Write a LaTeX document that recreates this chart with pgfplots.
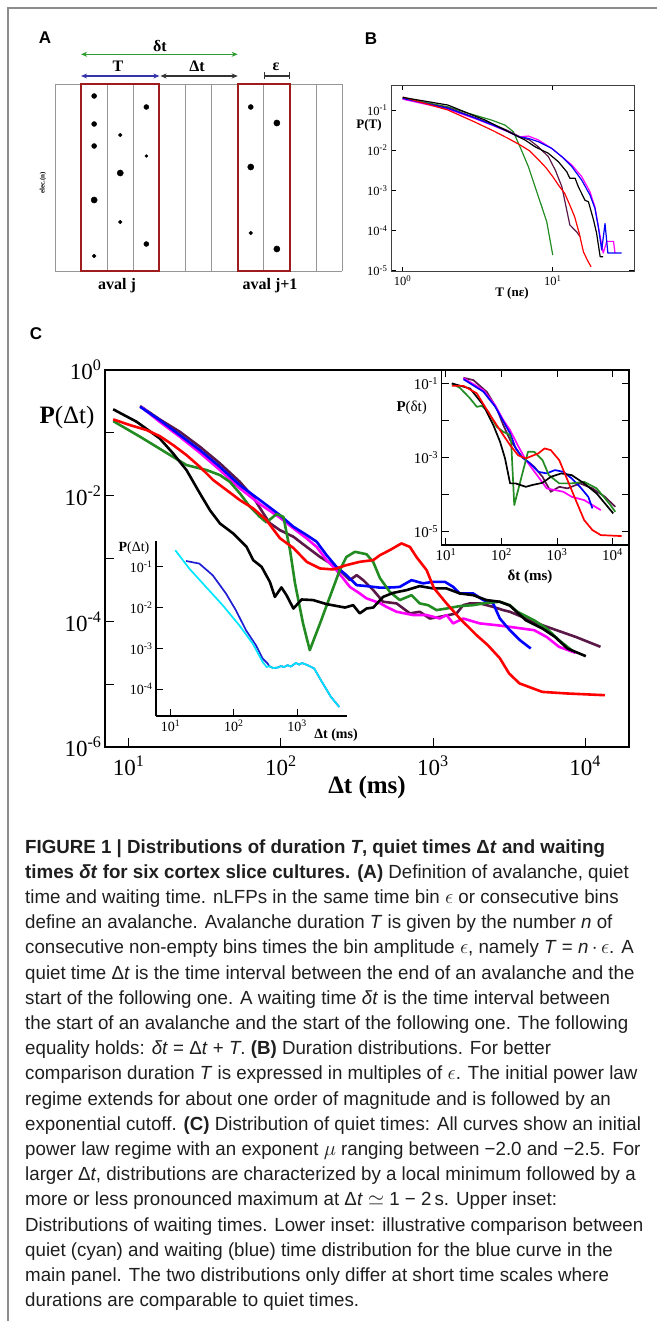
\documentclass[border=0pt]{standalone}
\usepackage{fontspec}
\setmainfont{Liberation Serif}
\newfontfamily\capfont{Liberation Sans}[FakeStretch=0.985]
\newfontfamily\panelfont{Liberation Sans}
\usepackage{pgfplots}
\pgfplotsset{compat=1.18}
\usetikzlibrary{arrows.meta}

\definecolor{cgreen}{RGB}{34,139,34}
\definecolor{cred}{RGB}{255,0,0}
\definecolor{cblue}{RGB}{0,0,255}
\definecolor{cmag}{RGB}{255,0,255}
\definecolor{cpurp}{RGB}{90,24,72}
\definecolor{ccyan}{RGB}{0,230,255}
\definecolor{cdblue}{RGB}{30,30,210}
\definecolor{framegray}{RGB}{140,140,140}
\definecolor{gridgray}{RGB}{150,150,150}
\definecolor{avalred}{RGB}{158,28,28}
\definecolor{arrgreen}{RGB}{46,155,46}
\definecolor{arrblue}{RGB}{52,52,168}

\pgfplotsset{
  logax/.style={scale only axis, log basis x=10, log basis y=10,
    tick align=inside, axis line style={line width=1.2bp},
    every tick/.style={line width=0.9bp, black},
    every axis plot/.append style={line join=round, no marks}},
  allx/.style={xticklabel={10\textsuperscript{\pgfmathtruncatemacro\e{round(\tick)}\e}}},
  ally/.style={yticklabel={10\textsuperscript{\pgfmathtruncatemacro\e{round(\tick)}\e}}},
  eveny/.style={yticklabel={\pgfmathtruncatemacro\e{round(\tick)}\ifodd\e\relax\else10\textsuperscript{\e}\fi}},
  oddy/.style={yticklabel={\pgfmathtruncatemacro\e{round(\tick)}\ifodd\e\relax10\textsuperscript{\e}\fi}},
}
\newcommand{\capsize}{\capfont\fontsize{19bp}{25bp}\selectfont}
\newcommand{\cl}[2]{\node[anchor=base west, inner sep=0pt, font=\capsize, text=black!88] at (25,#1) {#2};}

\begin{document}
\begin{tikzpicture}
\begin{scope}[x=1bp,y=-1bp]
\useasboundingbox (0,0) rectangle (657,1321);
\draw[framegray, line width=1.5bp] (8,1321) -- (8,8) -- (657,8);
% panel letters
\node[font=\panelfont\bfseries\fontsize{17bp}{17bp}\selectfont] at (45,38) {A};
\node[font=\panelfont\bfseries\fontsize{17bp}{17bp}\selectfont] at (371,39) {B};
\node[font=\panelfont\bfseries\fontsize{17bp}{17bp}\selectfont] at (36,334) {C};
% panel A labels
\node[font=\bfseries\fontsize{16bp}{16bp}\selectfont] at (160,46) {δt};
\node[font=\bfseries\fontsize{16bp}{16bp}\selectfont] at (118,66) {T};
\node[font=\bfseries\fontsize{16bp}{16bp}\selectfont] at (197,66) {Δt};
\node[font=\bfseries\fontsize{16bp}{16bp}\selectfont] at (276,67) {ε};
\node[font=\bfseries\fontsize{16bp}{16bp}\selectfont] at (117,286) {aval j};
\node[font=\bfseries\fontsize{16bp}{16bp}\selectfont] at (270,286) {aval j+1};
\node[font=\bfseries\fontsize{7bp}{7bp}\selectfont, rotate=90] at (43,183) {elec.(n)};
\end{scope}

% ---------------- panel A: schematic of avalanches ----------------
\begin{axis}[at={(55bp,-84bp)}, anchor=north west, scale only axis,
  width=287.1bp, height=187bp, xmin=55, xmax=342.1, ymin=84, ymax=271,
  y dir=reverse, hide axis, clip=false]
\pgfplotsinvokeforeach{0,...,11}{\draw[gridgray, line width=0.9bp] ({55+26.1*#1},84) -- ({55+26.1*#1},271);}
\draw[gridgray, line width=0.9bp] (55,84) -- (342.1,84) (55,271) -- (342.1,271);
\draw[avalred, line width=2bp] (81.1,84) rectangle (159.4,271);
\draw[avalred, line width=2bp] (237.7,84) rectangle (289.9,271);
\addplot[only marks, mark=*, mark size=1.4bp, black, mark options={fill=black}] coordinates {(146.35,156)};
\addplot[only marks, mark=*, mark size=1.9bp, black, mark options={fill=black}] coordinates {(94.15,256) (120.25,135) (120.25,222) (250.75,233)};
\addplot[only marks, mark=*, mark size=2.5bp, black, mark options={fill=black}] coordinates {(94.15,96) (94.15,124) (94.15,146) (146.35,107) (146.35,244) (250.75,107)};
\addplot[only marks, mark=*, mark size=3.1bp, black, mark options={fill=black}] coordinates {(94.15,200) (120.25,173) (250.75,167) (276.85,123) (276.85,249)};
\draw[arrgreen, line width=1.3bp, {Stealth[length=6bp,width=5bp]}-{Stealth[length=6bp,width=5bp]}] (81.1,54.3) -- (237.7,54.3);
\draw[arrblue, line width=1.3bp, {Stealth[length=6bp,width=5bp]}-{Stealth[length=6bp,width=5bp]}] (81.1,76) -- (159.4,76);
\draw[black!80, line width=1.3bp, {Stealth[length=6bp,width=5bp]}-{Stealth[length=6bp,width=5bp]}] (160.5,76) -- (237.7,76);
\draw[black!80, line width=1.3bp, {Bar[width=7bp]}-{Bar[width=7bp]}] (263.8,76) -- (289.9,76);
\end{axis}

% ---------------- panel B: duration distributions ----------------
\begin{loglogaxis}[logax, allx, ally, at={(391bp,-85bp)}, anchor=north west,
  width=243bp, height=186.7bp, xmin=0.836, xmax=34.8, ymin=9.5e-6, ymax=0.419,
  xtick={1,10}, ytick={1e-5,1e-4,1e-3,1e-2,1e-1}, yminorticks=false,
  major tick length=5bp, minor tick length=2.5bp,
  axis line style={black!75, line width=1bp},
  tick label style={font=\fontsize{12.5bp}{12.5bp}\selectfont},
  every axis plot/.append style={line width=1.2bp}]
\addplot[cgreen] coordinates {(1,0.20) (2,0.12) (2.74,0.083) (3.92,0.056) (4.81,0.042) (5.46,0.029) (6.18,0.0101) (6.88,0.0039) (7.62,0.00124) (8.45,3.94e-4) (9.12,1.66e-4) (10,2.47e-5)};
\addplot[cpurp] coordinates {(1,0.19) (2,0.115) (3,0.066) (4,0.044) (5,0.031) (6,0.022) (7,0.018) (8,0.0122) (9.35,0.0069) (10.4,0.0032) (11.5,0.00124) (13,1.38e-4) (14.4,9.4e-5) (15.2,7.1e-5)};
\addplot[cmag] coordinates {(1,0.186) (2,0.105) (3,0.062) (4,0.041) (5,0.029) (6,0.0215) (6.88,0.0225) (8.02,0.018) (9.84,0.0111) (11.5,0.0069) (13.4,0.0043) (15.6,0.0022) (17.7,9.3e-4) (19.1,3.9e-4) (20.7,7.1e-5) (21.7,2.76e-5) (22.9,5.4e-5) (25.4,5.4e-5) (26,2.76e-5)};
\addplot[cblue] coordinates {(1,0.195) (2,0.11) (3,0.064) (4,0.042) (5,0.0295) (5.9,0.0217) (6.88,0.0197) (8.02,0.0163) (9.84,0.0111) (11.5,0.0069) (13.4,0.0039) (15.6,0.0018) (17.7,7.7e-4) (19.1,3.6e-4) (20.1,1.26e-4) (21.2,3.3e-5) (22.3,1.5e-4) (23.3,2.76e-5) (28.8,2.76e-5)};
\addplot[cred] coordinates {(1,0.21) (2,0.10) (3,0.051) (4,0.0306) (5,0.02) (6,0.0138) (7,0.0097) (8,0.0059) (9,0.0037) (10,0.0022) (11,0.0013) (12,8.5e-4) (13,4.3e-4) (14,2.2e-4) (15,8.7e-5) (16,3.0e-5) (17,1.85e-5) (18,1.26e-5)};
\addplot[black] coordinates {(1,0.206) (2,0.133) (3,0.072) (3.54,0.0564) (4,0.045) (5.06,0.0289) (6.54,0.0179) (7.62,0.0122) (9.35,0.00836) (10.9,0.00518) (12.4,0.0029) (13.0,0.002) (14.1,0.002) (14.8,0.00124) (16.4,5.7e-4) (17.3,5.2e-4) (18.7,1.84e-4) (19.6,8.6e-5) (20.7,2.24e-5) (21.7,2.24e-5)};
\end{loglogaxis}

% ---------------- panel C: quiet times ----------------
\begin{loglogaxis}[logax, allx, eveny, at={(105bp,-747bp)}, anchor=south west,
  width=524bp, height=377bp, xmin=7, xmax=19400, ymin=1e-6, ymax=1,
  xtick={10,100,1000,10000}, ytick={1e-6,1e-5,1e-4,1e-3,1e-2,1e-1,1},
  xtick pos=bottom, ytick pos=left,
  major tick length=9bp, minor tick length=5bp,
  axis line style={line width=1.5bp},
  tick label style={font=\fontsize{23bp}{23bp}\selectfont},
  xticklabel style={yshift=-5bp},
  every axis plot/.append style={line width=2.6bp}]
\addplot[cpurp] coordinates {(11.9,0.267) (16.0,0.164) (21.7,0.104) (29.4,0.0601) (39.8,0.0327) (53.8,0.0166) (65.8,0.0095) (76.6,0.00528) (84.7,0.00366) (98.6,0.00283) (121,0.00222) (148,0.00153) (181,0.00106) (221,7.85e-4) (257,5.79e-4) (284,4.53e-4) (315,5.44e-4) (348,4.53e-4) (405,3.14e-4) (470,2.05e-4) (576,1.93e-4) (705,1.34e-4) (818,1.42e-4) (953,1.11e-4) (1109,1.18e-4) (1429,1.34e-4) (1578,1.81e-4) (1746,1.93e-4) (2032,1.93e-4) (2483,1.70e-4) (2891,1.51e-4) (3199,1.42e-4) (5224,8.69e-5) (8650,5.66e-5) (12600,3.93e-5)};
\addplot[cmag] coordinates {(12.2,0.255) (16.0,0.150) (21.7,0.0867) (29.4,0.0482) (39.8,0.0256) (53.8,0.0131) (72.9,0.00735) (98.6,0.00448) (121,0.00302) (148,0.00209) (172,0.00153) (200,9.44e-4) (232,6.53e-4) (257,4.82e-4) (284,3.54e-4) (330,2.78e-4) (366,2.32e-4) (448,1.95e-4) (495,1.70e-4) (576,1.42e-4) (741,1.26e-4) (908,1.26e-4) (1109,1.11e-4) (1227,1.26e-4) (1356,9.27e-5) (1578,1.11e-4) (2032,9.27e-5) (2618,8.69e-5) (3199,8.17e-5) (4613,7.24e-5) (5572,5.66e-5) (6730,3.93e-5) (8650,3.15e-5)};
\addplot[cblue] coordinates {(11.9,0.260) (16.0,0.160) (21.7,0.0923) (29.4,0.0532) (39.8,0.0288) (53.8,0.0147) (72.9,0.00851) (98.6,0.00491) (121,0.00320) (148,0.00236) (172,0.00185) (200,0.00113) (232,7.38e-4) (270,5.44e-4) (315,3.77e-4) (366,3.64e-4) (448,3.44e-4) (547,3.47e-4) (605,3.54e-4) (723,4.53e-4) (861,4.02e-4) (1002,4.26e-4) (1197,4.26e-4) (1356,3.54e-4) (1500,2.78e-4) (1837,2.78e-4) (2138,2.18e-4) (2483,1.93e-4) (2748,1.11e-4) (3199,7.24e-5) (3724,5.02e-5) (4385,3.70e-5)};
\addplot[cgreen] coordinates {(7.92,0.154) (11.9,0.0867) (17.7,0.0482) (24.0,0.0307) (32.5,0.0256) (39.8,0.0213) (46.3,0.0166) (53.8,0.0109) (62.7,0.00665) (72.9,0.00461) (80.5,0.00376) (93.7,0.00509) (104,0.00461) (115,0.00136) (124,4.02e-4) (140,9.27e-5) (155,3.48e-5) (181,9.27e-5) (210,2.45e-4) (244,6.53e-4) (270,1.06e-3) (307,1.28e-3) (366,1.17e-3) (405,8.77e-4) (448,4.88e-4) (520,2.95e-4) (605,2.18e-4) (723,2.61e-4) (818,1.93e-4) (929,1.81e-4) (1054,1.51e-4) (1227,1.60e-4) (1500,1.75e-4) (1837,1.81e-4) (2249,1.97e-4) (2748,2.05e-4) (3199,1.81e-4) (3581,1.42e-4) (4613,1.04e-4) (5572,7.71e-5) (6730,5.02e-5) (8128,3.48e-5)};
\addplot[black] coordinates {(7.92,0.237) (11.3,0.150) (16.0,0.0817) (19.6,0.0471) (24.0,0.0256) (29.4,0.0109) (34.2,0.0059) (39.8,0.00362) (48.6,0.00251) (59.6,0.00153) (65.8,9.44e-4) (74.8,7.38e-4) (84.7,4.26e-4) (91.4,2.45e-4) (101,3.47e-4) (109,2.61e-4) (121,1.60e-4) (137,2.23e-4) (163,2.18e-4) (200,1.88e-4) (264,1.66e-4) (299,1.81e-4) (330,1.34e-4) (366,1.60e-4) (405,1.66e-4) (470,2.45e-4) (547,2.84e-4) (670,3.14e-4) (818,3.64e-4) (1000,3.34e-4) (1227,3.34e-4) (1500,2.78e-4) (1837,2.61e-4) (2249,2.18e-4) (2748,2.05e-4) (3199,1.78e-4) (4074,1.04e-4) (5224,7.71e-5) (6324,5.66e-5) (7638,3.70e-5) (10090,2.79e-5)};
\addplot[cred] coordinates {(7.92,0.164) (10.2,0.133) (13.1,0.111) (16.0,0.0889) (19.6,0.0640) (24.0,0.0443) (29.4,0.0288) (36.0,0.0177) (44.0,0.0123) (53.8,0.00851) (65.8,0.00628) (80.5,0.00408) (98.6,0.00211) (121,0.00147) (148,8.86e-4) (181,6.95e-4) (221,6.70e-4) (270,7.85e-4) (330,8.86e-4) (405,9.44e-4) (448,1.13e-3) (520,1.36e-3) (621,1.74e-3) (705,1.53e-3) (780,1.05e-3) (908,6.53e-4) (1014,3.38e-4) (1227,1.93e-4) (1500,1.11e-4) (1932,6.03e-5) (2291,4.18e-5) (2748,2.59e-5) (3162,1.48e-5) (3698,1.03e-5) (5224,7.54e-6) (7638,7.11e-6) (13460,6.68e-6)};
\end{loglogaxis}

% upper inset: waiting times
\begin{loglogaxis}[logax, allx, oddy, at={(441.7bp,-370bp)}, anchor=north west,
  width=187.3bp, height=175bp, xmin=8.4, xmax=19800, ymin=4.4e-6, ymax=0.23,
  xtick={10,100,1000,10000}, ytick={1e-5,1e-4,1e-3,1e-2,1e-1},
  major tick length=7bp, minor tick length=3.5bp,
  axis background/.style={fill=white},
  axis line style={line width=1.4bp},
  tick label style={font=\fontsize{15bp}{15bp}\selectfont},
  every axis plot/.append style={line width=1.7bp}]
\addplot[cpurp] coordinates {(20.7,0.142) (31.2,0.123) (54.5,0.059) (82.2,0.0212) (108,0.0075) (143,0.003) (232,0.00105) (389,5.65e-4) (548,3.03e-4) (773,1.2e-4) (1096,1.63e-4) (1545,1.48e-4) (2594,2.02e-4) (4345,1.48e-4) (7295,8.77e-5) (11200,4.72e-5)};
\addplot[cmag] coordinates {(20.7,0.14) (47.2,0.066) (76.7,0.026) (108,0.0103) (143,0.0055) (195,0.0022) (275,8.57e-4) (461,3.03e-4) (653,1.48e-4) (920,1.33e-4) (1298,1.2e-4) (1837,8.77e-5) (3083,7.15e-5) (6138,3.85e-5)};
\addplot[cblue] coordinates {(20.7,0.13) (47.2,0.06) (76.7,0.024) (108,0.0095) (143,0.0045) (180,0.0018) (232,0.00105) (327,6.98e-4) (461,4.14e-4) (653,3.75e-4) (920,4.61e-4) (1298,4.14e-4) (1837,2.75e-4) (2594,1.63e-4) (3656,8.77e-5) (4345,4.28e-5)};
\addplot[cgreen] coordinates {(12.8,0.1) (18,0.075) (27,0.04) (36,0.0234) (44.3,0.0249) (58.1,0.0172) (82.2,0.00676) (108,0.00495) (143,0.00404) (150,0.0025) (170,5.25e-5) (300,0.00143) (389,0.00143) (548,8.57e-4) (713,3.37e-4) (1096,2.02e-4) (1837,2.02e-4) (3083,2.23e-4) (5176,1.48e-4) (8690,5.82e-5) (11200,3.46e-5)};
\addplot[black] coordinates {(12.8,0.1) (27.2,0.073) (47.2,0.026) (71.4,0.0075) (94.4,0.00267) (116,9.5e-4) (143,2.02e-4) (179,2.02e-4) (275,1.63e-4) (357,1.82e-4) (548,2.09e-4) (773,3.03e-4) (1194,3.75e-4) (1837,3.37e-4) (3083,2.02e-4) (5176,1.08e-4) (10300,3.13e-5)};
\addplot[cred] coordinates {(12.8,0.086) (20.7,0.086) (36,0.054) (62.4,0.014) (108,0.00404) (143,0.00217) (200,0.00115) (275,9.51e-4) (461,0.0013) (598,0.00177) (773,0.00159) (1096,8.57e-4) (1545,2.48e-4) (2178,7.15e-5) (3083,2.07e-5) (4345,1.11e-5) (6138,8.15e-6) (14600,7.66e-6)};
\end{loglogaxis}

% lower inset: quiet vs waiting times
\begin{loglogaxis}[logax, allx, ally, at={(156bp,-716bp)}, anchor=south west,
  width=190.7bp, height=175.3bp, xmin=5.9, xmax=6100, ymin=2.2e-5, ymax=0.44,
  axis lines*=left, xtick={10,100,1000}, ytick={1e-4,1e-3,1e-2,1e-1},
  major tick length=7bp, minor tick length=3.5bp,
  axis line style={line width=1.4bp},
  tick label style={font=\fontsize{14bp}{14bp}\selectfont},
  every axis plot/.append style={line width=1.7bp}]
\addplot[cdblue] coordinates {(17.6,0.140) (28.5,0.121) (46.5,0.0625) (75.3,0.0223) (108,0.00867) (156,0.0028) (224,0.0012) (286,5.66e-4) (343,4.27e-4) (364,3.67e-4) (420,3.3e-4) (494,3.4e-4) (560,3.7e-4) (620,3.5e-4) (711,3.88e-4) (800,3.6e-4) (962,4.42e-4) (1084,4.0e-4) (1200,4.4e-4) (1469,3.88e-4) (1871,3.22e-4) (2388,1.66e-4) (3436,6.47e-5) (4645,3.68e-5)};
\addplot[ccyan] coordinates {(11.9,0.257) (19.8,0.0914) (36.4,0.0323) (66.8,0.0115) (122,0.00372) (199,0.00132) (286,4.68e-4) (330,3.5e-4) (364,3.67e-4) (420,3.3e-4) (494,3.4e-4) (560,3.7e-4) (620,3.5e-4) (711,3.88e-4) (800,3.6e-4) (962,4.42e-4) (1084,4.0e-4) (1200,4.4e-4) (1469,3.88e-4) (1871,3.22e-4) (2388,1.66e-4) (3436,6.47e-5) (4645,3.68e-5)};
\end{loglogaxis}

\begin{scope}[x=1bp,y=-1bp]
% axis labels
\node[font=\fontsize{13bp}{13bp}\selectfont] at (369,125) {\textbf{P(T)}};
\node[font=\bfseries\fontsize{13bp}{13bp}\selectfont] at (512,293) {T (nε)};
\node[font=\fontsize{25bp}{25bp}\selectfont] at (67,417) {\textbf{P}(Δt)};
\node[font=\bfseries\fontsize{25bp}{25bp}\selectfont] at (367,787) {Δt (ms)};
\node[font=\fontsize{15bp}{15bp}\selectfont] at (411.7,408) {\textbf{P}(δt)};
\node[font=\bfseries\fontsize{15bp}{15bp}\selectfont] at (530,577) {δt (ms)};
\node[font=\fontsize{14bp}{14bp}\selectfont] at (134,548) {\textbf{P}(Δt)};
\node[font=\bfseries\fontsize{14bp}{14bp}\selectfont] at (336,735) {Δt (ms)};
% caption
\cl{853}{\textbf{FIGURE 1 | Distributions of duration \textit{T}, quiet times Δ\textit{t} and waiting}}
\cl{878.2}{\textbf{times \textit{δt} for six cortex slice cultures. (A)} Definition of avalanche, quiet}
\cl{903.4}{time and waiting time. nLFPs in the same time bin $\epsilon$ or consecutive bins}
\cl{928.6}{define an avalanche. Avalanche duration \textit{T} is given by the number \textit{n} of}
\cl{953.8}{consecutive non-empty bins times the bin amplitude $\epsilon$, namely \textit{T} = \textit{n}$\,\cdot\,\epsilon$. A}
\cl{979}{quiet time Δ\textit{t} is the time interval between the end of an avalanche and the}
\cl{1004.2}{start of the following one. A waiting time \textit{δt} is the time interval between}
\cl{1029.4}{the start of an avalanche and the start of the following one. The following}
\cl{1054.6}{equality holds: \textit{δt} = Δ\textit{t} + \textit{T}. \textbf{(B)} Duration distributions. For better}
\cl{1079.8}{comparison duration \textit{T} is expressed in multiples of $\epsilon$. The initial power law}
\cl{1105}{regime extends for about one order of magnitude and is followed by an}
\cl{1130.2}{exponential cutoff. \textbf{(C)} Distribution of quiet times: All curves show an initial}
\cl{1155.4}{power law regime with an exponent $\mu$ ranging between −2.0 and −2.5. For}
\cl{1180.6}{larger Δ\textit{t}, distributions are characterized by a local minimum followed by a}
\cl{1205.8}{more or less pronounced maximum at Δ\textit{t} $\simeq$ 1 − 2\,s. Upper inset:}
\cl{1231}{Distributions of waiting times. Lower inset: illustrative comparison between}
\cl{1256.2}{quiet (cyan) and waiting (blue) time distribution for the blue curve in the}
\cl{1281.4}{main panel. The two distributions only differ at short time scales where}
\cl{1306.6}{durations are comparable to quiet times.}
\end{scope}
\end{tikzpicture}
\end{document}
